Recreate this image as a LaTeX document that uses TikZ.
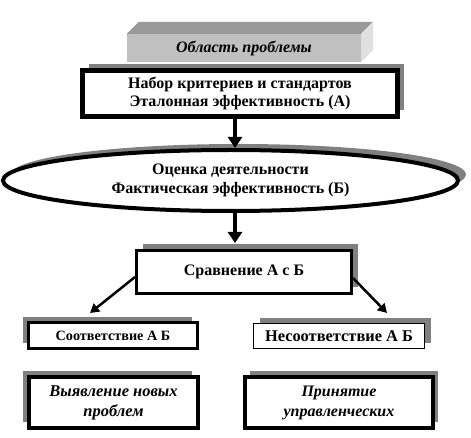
\documentclass[tikz,border=0pt]{standalone}
\usepackage{fontspec}
\setmainfont{Liberation Serif}
\usetikzlibrary{arrows.meta,shapes.geometric,shadows}
\definecolor{shd}{HTML}{808080}
\definecolor{frontc}{HTML}{C0C0C0}
\definecolor{topc}{HTML}{999999}
\definecolor{sidec}{HTML}{E0E0E0}
\tikzset{
  boxbase/.style={draw=black, fill=white, rectangle, inner sep=0pt, align=center, font=\bfseries\fontsize{16}{18}\selectfont},
  shur/.style={general shadow={fill=shd, shadow xshift=6pt, shadow yshift=6pt}},
  shul/.style={general shadow={fill=shd, shadow xshift=-6pt, shadow yshift=6pt}},
  bigarr/.style={line width=3.5pt, -{Triangle[length=11pt,width=14pt]}},
  diagarr/.style={line width=2.5pt, -{Triangle[length=9pt,width=10pt]}},
}
\begin{document}
\begin{tikzpicture}[x=1pt,y=-1pt]
\useasboundingbox (0,0) rectangle (471,438);
% top 3D box
\node[fill=frontc, minimum width=234pt, minimum height=28pt, inner sep=0pt,
      font=\bfseries\itshape\fontsize{16}{18}\selectfont] (area) at (244,48) {Область проблемы};
\fill[topc] (area.north west) -- ++(12,-12) -- ++(234,0) -- (area.north east) -- cycle;
\fill[sidec] (area.north east) -- ++(12,-12) -- ++(0,28) -- (area.south east) -- cycle;
% box 2
\node[boxbase, shur, line width=5pt, minimum width=315pt, minimum height=46pt] (std) at (240,93.5)
  {Набор критериев и стандартов\\Эталонная эффективность (А)};
% ellipse
\node[draw=black, fill=white, ellipse, line width=4pt, inner sep=0pt, minimum width=455pt, minimum height=61pt,
      general shadow={fill=shd, shadow xshift=8pt, shadow yshift=6pt},
      align=center, font=\bfseries\fontsize{16}{19}\selectfont] (ell) at (230.5,180.5)
  {Оценка деятельности\\Фактическая эффективность (Б)};
% comparison
\node[boxbase, shur, line width=3pt, minimum width=215pt, minimum height=43pt] (cmp) at (244,272)
  {\raisebox{3pt}{Сравнение А с Б}};
% match / mismatch
\node[boxbase, shul, line width=3pt, minimum width=169pt, minimum height=26pt,
      font=\bfseries\fontsize{14.2}{16}\selectfont] (ok) at (113,335.5) {Соответствие А Б};
\node[boxbase, shur, line width=1pt, minimum width=171pt, minimum height=25pt,
      font=\bfseries\fontsize{16.4}{18}\selectfont] (nok) at (339,336) {Несоответствие А Б};
% bottom boxes
\node[boxbase, shul, line width=4pt, minimum width=169pt, minimum height=51pt,
      font=\bfseries\itshape\fontsize{16.5}{20}\selectfont] (newp) at (113.5,402.5) {Выявление новых\\проблем};
\node[boxbase, general shadow={fill=shd, shadow xshift=5pt, shadow yshift=6pt}, line width=4pt,
      minimum width=188pt, minimum height=51pt,
      font=\bfseries\itshape\fontsize{16}{20}\selectfont] (dec) at (339,402.5) {Принятие\\управленческих};
% arrows
\draw[bigarr] ([xshift=-5pt]std.south) -- ([xshift=-5pt]std.south |- ell.north);
\draw[bigarr] ([xshift=4.5pt]ell.south) -- ([xshift=4.5pt, yshift=6pt]ell.south |- cmp.north);
\coordinate (lt) at (90,313);
\coordinate (rt) at (387,313);
\draw[diagarr] ([yshift=-5pt]cmp.west) -- (lt);
\draw[diagarr] ([yshift=-6pt]cmp.east) -- (rt);
\end{tikzpicture}
\end{document}
